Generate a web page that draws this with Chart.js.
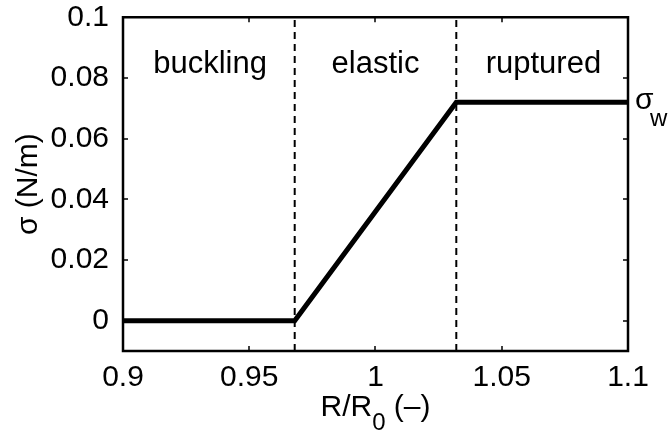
<!DOCTYPE html>
<html><head><meta charset="utf-8">
<script src="https://cdn.jsdelivr.net/npm/chart.js@4"></script>
<style>html,body{margin:0;padding:0;background:#fff}#wrap{width:672px;height:436px}</style>
</head><body><div id="wrap"><canvas id="c" width="672" height="436"></canvas></div>
<script>
// ---- data ----
const ratio = [0.9, 0.968, 1.032, 1.1];
const sigma = [0, 0, 0.072, 0.072];
const boundaries = [0.968, 1.032];
const regionNames = ['buckling', 'elastic', 'ruptured'];
const regionCenters = [0.9345, 1.0, 1.0665];
const regionLabelY = 0.0845;
const xTicks = [0.9, 0.95, 1, 1.05, 1.1];
const xTickLabels = ['0.9', '0.95', '1', '1.05', '1.1'];
const yTicks = [0, 0.02, 0.04, 0.06, 0.08, 0.1];
const yTickLabels = ['0', '0.02', '0.04', '0.06', '0.08', '0.1'];
const xRange = [0.9, 1.1];
const yRange = [-0.01, 0.1];
const plateauSymbol = 'σ';
const plateauSub = 'w';
const yTitle = 'σ (N/m)';
const xTitleParts = ['R/R', '0', ' (–)'];

const FONT = '"Liberation Sans", Arial, Helvetica, sans-serif';

const mainData = ratio.map((x, i) => ({x, y: sigma[i]}));
const dashedSets = boundaries.map(b => ({
  data: [{x: b, y: yRange[0]}, {x: b, y: yRange[1]}],
  showLine: true, borderColor: '#000', borderWidth: 2, borderDash: [7, 5],
  pointRadius: 0, order: 2
}));

const decor = {
  id: 'decor',
  afterDatasetsDraw(chart) {
    const {ctx, chartArea: a, scales: {x, y}} = chart;
    ctx.save();
    // box
    ctx.strokeStyle = '#000';
    ctx.lineWidth = 2.5;
    ctx.strokeRect(a.left, a.top, a.right - a.left, a.bottom - a.top);
    // inward ticks
    ctx.lineWidth = 1.5;
    ctx.beginPath();
    xTicks.forEach(v => {
      const px = Math.round(x.getPixelForValue(v));
      ctx.moveTo(px, a.bottom); ctx.lineTo(px, a.bottom - 5);
      ctx.moveTo(px, a.top); ctx.lineTo(px, a.top + 5);
    });
    yTicks.forEach(v => {
      const py = Math.round(y.getPixelForValue(v));
      ctx.moveTo(a.left, py); ctx.lineTo(a.left + 5, py);
      ctx.moveTo(a.right, py); ctx.lineTo(a.right - 5, py);
    });
    ctx.stroke();
    // region labels
    ctx.fillStyle = '#000';
    ctx.font = '31px ' + FONT;
    ctx.textAlign = 'center';
    ctx.textBaseline = 'middle';
    regionNames.forEach((n, i) => {
      ctx.fillText(n, x.getPixelForValue(regionCenters[i]), y.getPixelForValue(regionLabelY));
    });
    // plateau label
    const py = y.getPixelForValue(sigma[sigma.length - 1]);
    ctx.textAlign = 'left';
    ctx.textBaseline = 'alphabetic';
    ctx.font = '30px ' + FONT;
    ctx.fillText(plateauSymbol, a.right + 7, py + 7);
    ctx.font = '24px ' + FONT;
    ctx.fillText(plateauSub, a.right + 22, py + 24);
    // y title
    ctx.save();
    ctx.translate(37, (a.top + a.bottom) / 2);
    ctx.rotate(-Math.PI / 2);
    ctx.font = '30px ' + FONT;
    ctx.textAlign = 'center';
    ctx.fillText(yTitle, 0, 0);
    ctx.restore();
    // x title with subscript
    ctx.font = '30px ' + FONT;
    const w0 = ctx.measureText(xTitleParts[0]).width;
    const w2 = ctx.measureText(xTitleParts[2]).width;
    ctx.font = '24px ' + FONT;
    const w1 = ctx.measureText(xTitleParts[1]).width;
    const total = w0 + w1 + w2;
    let sx = (a.left + a.right) / 2 - total / 2;
    const base = 416;
    ctx.font = '30px ' + FONT;
    ctx.fillText(xTitleParts[0], sx, base); sx += w0;
    ctx.font = '24px ' + FONT;
    ctx.fillText(xTitleParts[1], sx, base + 14); sx += w1;
    ctx.font = '30px ' + FONT;
    ctx.fillText(xTitleParts[2], sx, base);
    ctx.restore();
  }
};

new Chart(document.getElementById('c'), {
  type: 'scatter',
  data: {
    datasets: [
      {data: mainData, showLine: true, borderColor: '#000', borderWidth: 5,
       pointRadius: 0, order: 0, borderJoinStyle: 'miter'},
      ...dashedSets
    ]
  },
  options: {
    responsive: false, animation: false, devicePixelRatio: 1,
    layout: {padding: {top: 15, right: 44, left: 0, bottom: 0}},
    plugins: {legend: {display: false}, tooltip: {enabled: false}},
    scales: {
      x: {
        type: 'linear', min: xRange[0], max: xRange[1],
        grid: {display: false}, border: {display: false},
        afterBuildTicks: s => { s.ticks = xTicks.map(v => ({value: v})); },
        afterFit: s => { s.height = 85; },
        ticks: {color: '#000', font: {size: 30, family: FONT}, padding: 1, maxRotation: 0,
          callback: (v) => xTickLabels[xTicks.indexOf(v)] ?? ''}
      },
      y: {
        type: 'linear', min: yRange[0], max: yRange[1],
        grid: {display: false}, border: {display: false},
        afterBuildTicks: s => { s.ticks = yTicks.map(v => ({value: v})); },
        afterFit: s => { s.width = 123; },
        ticks: {color: '#000', font: {size: 30, family: FONT, lineHeight: 0.75}, padding: 6,
          callback: (v) => yTickLabels[yTicks.indexOf(v)] ?? ''}
      }
    }
  },
  plugins: [decor]
});
</script>
</body></html>
